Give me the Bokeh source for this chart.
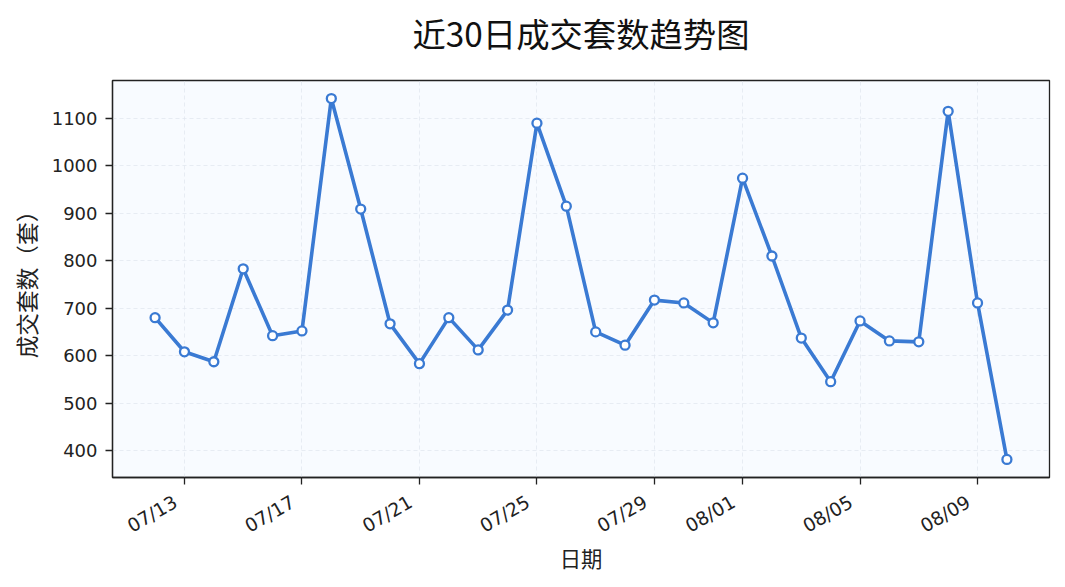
import datetime as dt
import math
from bokeh.plotting import figure
from bokeh.models import (FixedTicker, Range1d, ColumnDataSource,
                          CustomJSTickFormatter, LinearAxis)
from bokeh.embed import file_html
from bokeh.resources import INLINE

dates = ["2025-07-12", "2025-07-13", "2025-07-14", "2025-07-15", "2025-07-16",
         "2025-07-17", "2025-07-18", "2025-07-19", "2025-07-20", "2025-07-21",
         "2025-07-22", "2025-07-23", "2025-07-24", "2025-07-25", "2025-07-26",
         "2025-07-27", "2025-07-28", "2025-07-29", "2025-07-30", "2025-07-31",
         "2025-08-01", "2025-08-02", "2025-08-03", "2025-08-04", "2025-08-05",
         "2025-08-06", "2025-08-07", "2025-08-08", "2025-08-09", "2025-08-10"]
counts = [680, 608, 587, 783, 642, 652, 1142, 909, 667, 583,
          680, 612, 696, 1090, 915, 650, 622, 717, 711, 669,
          974, 810, 637, 545, 673, 631, 629, 1115, 711, 381]
tick_dates = ["2025-07-13", "2025-07-17", "2025-07-21", "2025-07-25",
              "2025-07-29", "2025-08-01", "2025-08-05", "2025-08-09"]
tick_labels = ["07/13", "07/17", "07/21", "07/25", "07/29", "08/01", "08/05", "08/09"]
y_ticks = [400, 500, 600, 700, 800, 900, 1000, 1100]

title_text = "近30日成交套数趋势图"
x_label = "日期"
y_label = "成交套数（套）"

x = [dt.datetime.strptime(d, "%Y-%m-%d") for d in dates]
src = ColumnDataSource(dict(x=x, y=counts))

def ms(d):
    return (d - dt.datetime(1970, 1, 1)).total_seconds() * 1000.0

x0, x1 = ms(x[0]), ms(x[-1])
span = x1 - x0
ymin, ymax = min(counts), max(counts)
yr = ymax - ymin
xs, xe = x0 - 0.05 * span, x1 + 0.05 * span
ys, ye = ymin - 0.05 * yr, ymax + 0.05 * yr

FONT = "DejaVu Sans, Noto Sans CJK SC, sans-serif"
CJK = "Noto Sans CJK SC, sans-serif"
INK = "#222222"
BLUE = "#3a7ad3"

FRAME_W = 937
p = figure(width=1057, height=579, x_axis_type="datetime",
           output_backend="svg", toolbar_location=None,
           x_range=Range1d(xs, xe), y_range=Range1d(ys, ye),
           min_border_left=112, min_border_right=8,
           min_border_top=80, min_border_bottom=102)

p.background_fill_color = "#f8fbff"
p.border_fill_color = "white"
p.outline_line_color = INK
p.outline_line_width = 1.3

p.grid.grid_line_color = "#dfe6ee"
p.grid.grid_line_dash = "4 3"
p.grid.grid_line_alpha = 0.7
p.grid.grid_line_width = 1

p.line("x", "y", source=src, line_color=BLUE, line_width=3.6)
p.scatter("x", "y", source=src, size=9, fill_color="white",
          line_color=BLUE, line_width=2.3)

tick_ms = [ms(dt.datetime.strptime(t, "%Y-%m-%d")) for t in tick_dates]
p.xaxis.ticker = FixedTicker(ticks=tick_ms)
p.xaxis.formatter = CustomJSTickFormatter(code="return ''")
p.xaxis.major_label_text_font_size = "1px"
p.xaxis.major_label_standoff = 0
p.yaxis.ticker = FixedTicker(ticks=y_ticks)

for ax in (p.xaxis, p.yaxis):
    ax.axis_line_color = INK
    ax.axis_line_width = 1.3
    ax.major_tick_line_color = INK
    ax.major_tick_line_width = 1.3
    ax.major_tick_out = 7
    ax.major_tick_in = 0
    ax.minor_tick_line_color = None
    ax.major_label_text_font = FONT
    ax.major_label_text_color = INK
p.yaxis.major_label_text_font_size = "13.5pt"
p.yaxis.major_label_standoff = 8
p.yaxis.axis_label = y_label
p.yaxis.axis_label_standoff = 6
p.yaxis.axis_label_text_font = CJK
p.yaxis.axis_label_text_font_size = "17pt"
p.yaxis.axis_label_text_font_style = "normal"
p.yaxis.axis_label_text_color = INK

# label axis: tick labels rotated 30deg, shifted so their right end sits at the tick
shift_px = -9
shift = shift_px * (xe - xs) / FRAME_W
label_ticks = [t + shift for t in tick_ms]
lab_axis = LinearAxis(
    ticker=FixedTicker(ticks=label_ticks),
    formatter=CustomJSTickFormatter(
        args=dict(tks=label_ticks, labs=tick_labels),
        code="for (let i = 0; i < tks.length; i++) { if (Math.abs(tks[i] - tick) < 1000) return labs[i]; } return '';"),
    major_label_orientation=math.pi / 6,
    axis_line_color=None, major_tick_line_color=None,
    minor_tick_line_color=None, major_tick_out=0, major_tick_in=0,
    major_label_standoff=16,
    major_label_text_font=FONT, major_label_text_font_size="14pt",
    major_label_text_color=INK,
    axis_label=x_label, axis_label_standoff=-7,
    axis_label_text_font=CJK, axis_label_text_font_size="16pt",
    axis_label_text_font_style="normal", axis_label_text_color=INK)
p.add_layout(lab_axis, "below")

# chart title, carried by a bare axis above the frame so its height is controllable
title_axis = LinearAxis(
    ticker=FixedTicker(ticks=[]),
    axis_line_color=None, major_tick_line_color=None,
    minor_tick_line_color=None, major_tick_out=0, major_tick_in=0,
    major_label_standoff=0, major_label_text_font_size="1px",
    axis_label=title_text, axis_label_standoff=24,
    axis_label_text_font=CJK, axis_label_text_font_size="25pt",
    axis_label_text_font_style="normal", axis_label_text_color="#111111")
p.add_layout(title_axis, "above")

open("out.html", "w").write(file_html(p, INLINE))
